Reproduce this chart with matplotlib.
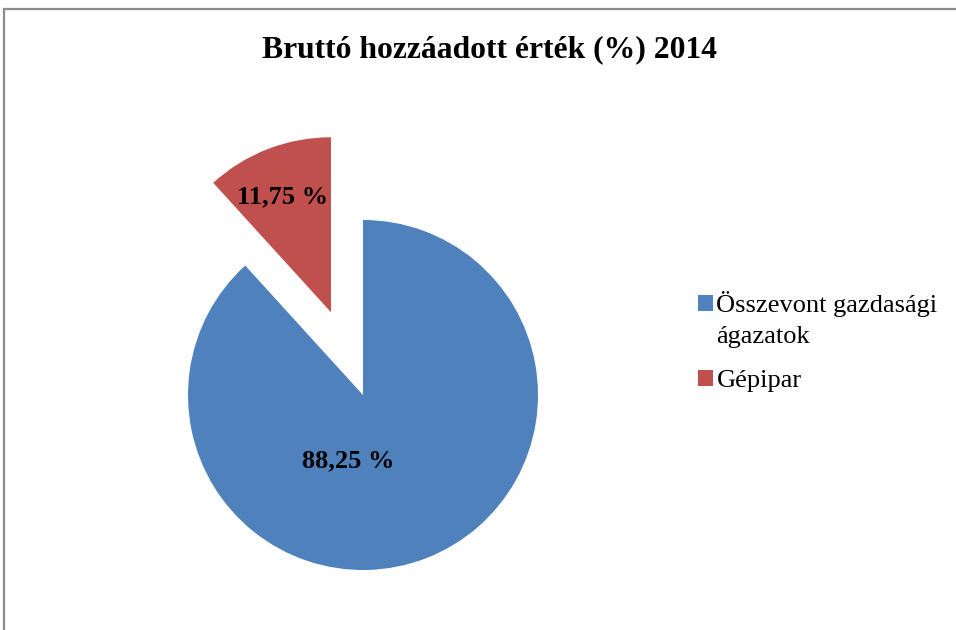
import matplotlib
matplotlib.use("Agg")
import matplotlib.pyplot as plt
from matplotlib.patches import Rectangle
import numpy as np

title = "Bruttó hozzáadott érték (%) 2014"
categories = ["Összevont gazdasági\nágazatok", "Gépipar"]
values = [88.25, 11.75]
value_labels = ["88,25 %", "11,75 %"]

colors = ["#4F81BD", "#C0504D"]
explode_frac = [0.0, 0.507]

W, H = 956, 630
fig = plt.figure(figsize=(W / 100, H / 100), dpi=100)
fig.patch.set_facecolor("white")

# outer border
fig.patches.append(Rectangle((4 / W, -0.1), 1.2, (H - 9) / H + 0.1, transform=fig.transFigure,
                             fill=False, edgecolor="#8c8c8c", linewidth=1.6))

ax = fig.add_axes([0, 0, 1, 1])

cx, cy, r = 363, H - 395, 175
wedges, _ = ax.pie(values, colors=colors, explode=[e * r for e in explode_frac],
                   startangle=90, counterclock=False, center=(cx, cy), radius=r,
                   wedgeprops=dict(linewidth=0))
ax.set_xlim(0, W)
ax.set_ylim(0, H)
ax.set_aspect("equal")
ax.axis("off")

# label placement (polar offsets relative to each wedge's own center)
label_pos = [(0.385, -103.0), (0.715, 113.0)]
for w, lab, (d, ang) in zip(wedges, value_labels, label_pos):
    wx, wy = w.center
    a = np.deg2rad(ang)
    ax.text(wx + d * r * np.cos(a), wy + d * r * np.sin(a), lab,
            ha="center", va="center", fontsize=19, fontweight="bold",
            family="Liberation Serif", color="black")

fig.text(490 / W, 1 - 50 / H, title, ha="center", va="center",
         fontsize=22.8, fontweight="bold", family="Liberation Serif")

leg = ax.legend(wedges, categories, loc="upper left",
                bbox_to_anchor=(698 / W, 1 - 291 / H), bbox_transform=fig.transFigure,
                frameon=False, prop=dict(family="Liberation Serif", size=19),
                handlelength=0.55, handleheight=0.55, handletextpad=0.15,
                labelspacing=0.85, borderpad=0, borderaxespad=0)
for t in leg.get_texts():
    t.set_linespacing(1.5)
# align the first handle with the first line of its two-line label
h0 = leg.legend_handles[0]
h0.set_y(h0.get_y() + 11)

fig.savefig("out.png", dpi=100, facecolor="white")
